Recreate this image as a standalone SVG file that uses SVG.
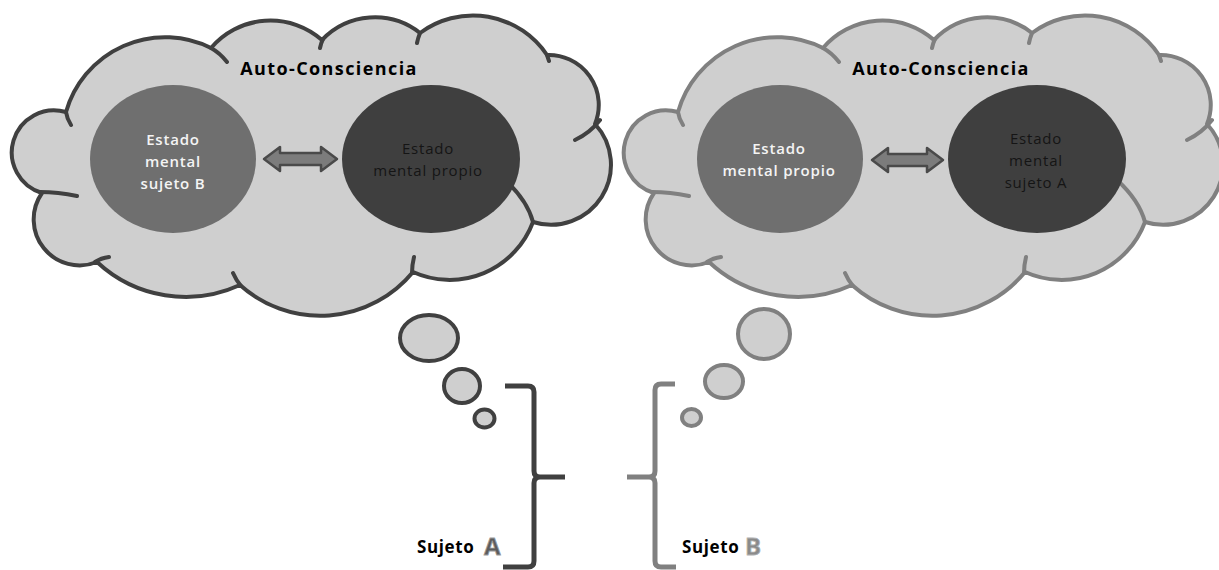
<svg xmlns="http://www.w3.org/2000/svg" xmlns:xlink="http://www.w3.org/1999/xlink" width="1219" height="570" viewBox="0 0 1219 570">
<style>
  .cloud-body { fill: #cfcfcf; stroke-width: 4; stroke-linejoin: round; }
  .stub { fill: none; stroke-width: 4; stroke-linecap: round; }
  .dark-line { stroke: #404040; }
  .gray-line { stroke: #808080; }
  .mid-circle { fill: #6f6f6f; }
  .dark-circle { fill: #3f3f3f; }
  .title { font-family: "Open Sans", "Liberation Sans", sans-serif; font-weight: 700; font-size: 18px; letter-spacing: 1.4px; fill: #000; text-anchor: middle; }
  .t-light { font-family: "Open Sans", "Liberation Sans", sans-serif; font-weight: 600; font-size: 15px; letter-spacing: 0.8px; fill: #f4f4f4; text-anchor: middle; }
  .t-dark { font-family: "Open Sans", "Liberation Sans", sans-serif; font-weight: 400; font-size: 15px; letter-spacing: 0.8px; fill: #151515; text-anchor: middle; }
  .arrow { fill: #7c7c7c; stroke: #4a4a4a; stroke-width: 2.5; stroke-linejoin: round; }
  .bubble { fill: #cfcfcf; stroke-width: 4; }
  .bracket { fill: none; stroke-width: 5; stroke-linejoin: round; stroke-linecap: butt; }
  .label { font-family: "Open Sans", "Liberation Sans", sans-serif; font-weight: 700; font-size: 17px; letter-spacing: 0.6px; fill: #000; }
  .big-letter { font-family: "Open Sans", "Liberation Sans", sans-serif; font-weight: 700; font-size: 24px; stroke-width: 0.8; }
</style>
<defs>
  <g id="cloud-shape">
    <path class="cloud-body" d="M66,112 A103,103 0 0 1 211,48 A78,78 0 0 1 322,40 A73,73 0 0 1 420,33 A89,89 0 0 1 547,55 A50,50 0 0 1 595,124 A60,60 0 0 1 533,222 A89,89 0 0 1 413,272 A120,120 0 0 1 240,285 A130,130 0 0 1 97,262 A46,46 0 0 1 42,193 A42,42 0 0 1 66,112 Z"/>
    <path class="stub" d="M66,112 Q67,119 71,125 M211,48 Q220,53 227,62 M323,39 Q321,43 320,48 M420,33 Q418,38 417,43 M547,55 Q548,58 549,61 M600,120 Q590,133 575,140 M533,222 Q527,200 505,180 M412,273 Q412,265 414,257 M241,286 Q236,280 233,273 M95,262 Q101,258 109,257 M40,192 Q58,192 77,196"/>
  </g>
</defs>

<g id="cloud-left">
  <use xlink:href="#cloud-shape" href="#cloud-shape" class="dark-line"/>
  <text class="title" x="329" y="75">Auto-Consciencia</text>
</g>
<g id="cloud-right">
  <use xlink:href="#cloud-shape" href="#cloud-shape" class="gray-line" transform="translate(612,0)"/>
  <text class="title" x="941" y="75">Auto-Consciencia</text>
</g>

<g id="node-left-sujetoB">
  <ellipse class="mid-circle" cx="173" cy="159" rx="83" ry="74"/>
  <text class="t-light" x="173" y="145">Estado</text>
  <text class="t-light" x="173" y="167">mental</text>
  <text class="t-light" x="173" y="189">sujeto B</text>
</g>
<g id="node-left-propio">
  <ellipse class="dark-circle" cx="431" cy="159" rx="89" ry="74"/>
  <text class="t-dark" x="428" y="154">Estado</text>
  <text class="t-dark" x="428" y="176">mental propio</text>
</g>
<g id="node-right-propio">
  <ellipse class="mid-circle" cx="780" cy="159" rx="83" ry="74"/>
  <text class="t-light" x="779" y="154">Estado</text>
  <text class="t-light" x="779" y="176">mental propio</text>
</g>
<g id="node-right-sujetoA">
  <ellipse class="dark-circle" cx="1037" cy="159" rx="89" ry="74"/>
  <text class="t-dark" x="1036" y="144">Estado</text>
  <text class="t-dark" x="1036" y="166">mental</text>
  <text class="t-dark" x="1036" y="188">sujeto A</text>
</g>

<g id="connectors">
  <polygon class="arrow" points="264,159 280,147 280,153 321,153 321,147 337,159 321,171 321,165 280,165 280,171"/>
  <polygon class="arrow" points="872,160 888,148 888,154 927,154 927,148 943,160 927,172 927,166 888,166 888,172"/>
</g>

<g id="bubbles-left">
  <ellipse class="bubble dark-line" cx="429" cy="338" rx="29" ry="23"/>
  <ellipse class="bubble dark-line" cx="462" cy="386" rx="18" ry="17"/>
  <ellipse class="bubble dark-line" cx="484.5" cy="418.5" rx="10" ry="9"/>
</g>
<g id="bubbles-right">
  <ellipse class="bubble gray-line" cx="764" cy="334" rx="26" ry="25"/>
  <ellipse class="bubble gray-line" cx="724" cy="381.5" rx="19" ry="16.5"/>
  <ellipse class="bubble gray-line" cx="691.5" cy="417.5" rx="9.5" ry="8.5"/>
</g>

<g id="sujeto-A">
  <path class="bracket dark-line" d="M505,386 L528,386 Q534,386 534,392 L534,471 Q534,477 540,477 L565,477 M540,477 Q534,477 534,483 L534,561 Q534,567 528,567 L503,567"/>
  <text class="label" x="417" y="553">Sujeto</text>
  <text class="big-letter" x="484" y="555" fill="#5c5c5c" stroke="#9a9a9a">A</text>
</g>
<g id="sujeto-B">
  <path class="bracket gray-line" d="M675,384 L661,384 Q655,384 655,390 L655,471 Q655,477 649,477 L627,477 M649,477 Q655,477 655,483 L655,561 Q655,567 661,567 L676,567"/>
  <text class="label" x="682" y="553">Sujeto</text>
  <text class="big-letter" x="745" y="555" fill="#8a8a8a" stroke="#b0b0b0">B</text>
</g>
</svg>
